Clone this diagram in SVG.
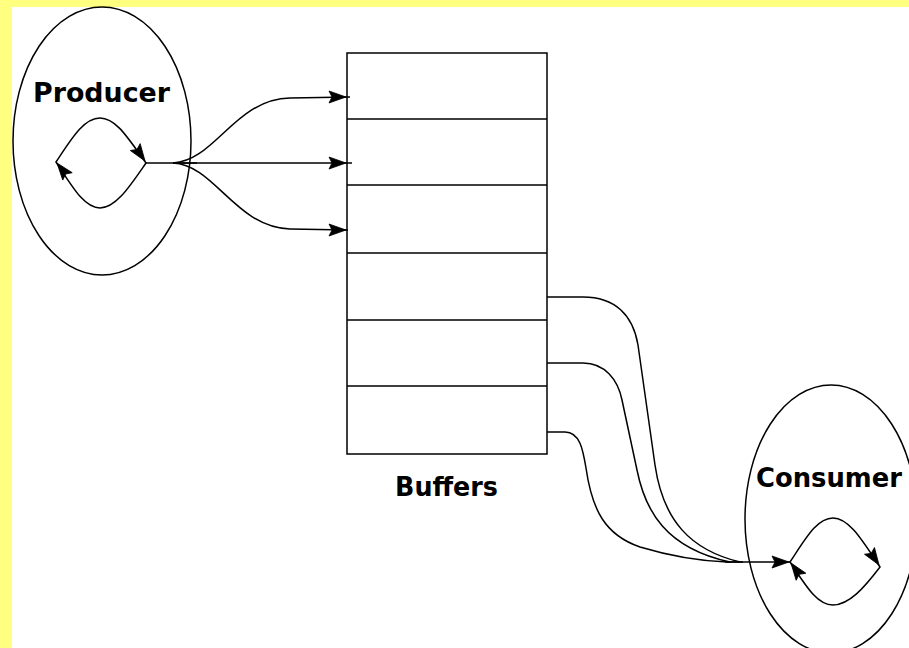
<svg xmlns="http://www.w3.org/2000/svg" xmlns:xlink="http://www.w3.org/1999/xlink" width="909" height="648" viewBox="0 0 909 648">
  <style>
    .ln { fill: none; stroke: #000; stroke-width: 1.5; }
    .lbl { font-family: "DejaVu Sans", "Liberation Sans", sans-serif; font-weight: bold; font-size: 26px; fill: #000; }
    .ah { fill: #000; stroke: #000; stroke-width: 0.8; stroke-linejoin: miter; }
  </style>
  <defs>
    <!-- filled arrowhead, tip at origin, pointing along +x -->
    <polygon id="ah" class="ah" points="0,0 -17,-6 -14,0 -17,6"/>
  </defs>

  <!-- page background with yellow margin strips -->
  <rect x="0" y="0" width="909" height="648" fill="#fff"/>
  <rect x="0" y="0" width="909" height="7" fill="#ffff80"/>
  <rect x="0" y="0" width="12" height="648" fill="#ffff80"/>

  <!-- producer process -->
  <g id="producer">
    <ellipse class="ln" cx="102" cy="141" rx="89" ry="134"/>
    <text class="lbl" x="33" y="102" textLength="137" lengthAdjust="spacingAndGlyphs">Producer</text>
    <path class="ln" d="M56,162 C72,138 84,118 100,118 C116,118 128,138 146,163 C130,186 116,208 100,208 C84,208 72,186 56,162 Z"/>
    <use xlink:href="#ah" transform="translate(145,161) rotate(55)"/>
    <use xlink:href="#ah" transform="translate(57,163) rotate(232)"/>
  </g>

  <!-- buffer stack -->
  <g id="buffers">
    <rect class="ln" x="347" y="53" width="200" height="401"/>
    <path class="ln" d="M347,119 H547 M347,185 H547 M347,253 H547 M347,320 H547 M347,386 H547"/>
    <text class="lbl" x="395" y="496" textLength="103" lengthAdjust="spacingAndGlyphs">Buffers</text>
  </g>

  <!-- consumer process -->
  <g id="consumer">
    <ellipse class="ln" cx="831" cy="519" rx="86" ry="134"/>
    <text class="lbl" x="756" y="487" textLength="146" lengthAdjust="spacingAndGlyphs">Consumer</text>
    <path class="ln" d="M790,562 C806,538 817,518 833,518 C849,518 862,540 880,567 C864,588 849,605 833,605 C817,605 806,586 790,562 Z"/>
    <use xlink:href="#ah" transform="translate(879,565) rotate(56)"/>
    <use xlink:href="#ah" transform="translate(791,563) rotate(234)"/>
  </g>

  <!-- connectors -->
  <g id="connectors">
    <!-- producer to buffers -->
    <path class="ln" d="M146,163 H352"/>
    <path class="ln" d="M173,163 C215,161 235,99 290,98 L350,97"/>
    <path class="ln" d="M173,163 C215,165 235,227 290,229 L348,230"/>
    <use xlink:href="#ah" transform="translate(346,97)"/>
    <use xlink:href="#ah" transform="translate(346,163)"/>
    <use xlink:href="#ah" transform="translate(346,230)"/>
    <path class="ln" d="M173,163 H197" stroke-width="3"/>

    <!-- buffers to consumer -->
    <path class="ln" d="M547,297 H583 C615,297 633,315 638,345 L655,465 C663,520 690,550 740,562"/>
    <path class="ln" d="M547,363 H583 C605,363 618,380 622,400 L637,470 C645,510 665,548 730,562"/>
    <path class="ln" d="M547,432 H565 C580,432 583,450 586,468 C592,510 605,535 640,547 C670,556 700,561 727,562"/>
    <path class="ln" d="M725,562 H790"/>
    <path class="ln" d="M727,562 H743" stroke-width="3"/>
    <use xlink:href="#ah" transform="translate(789,562)"/>
  </g>
</svg>
